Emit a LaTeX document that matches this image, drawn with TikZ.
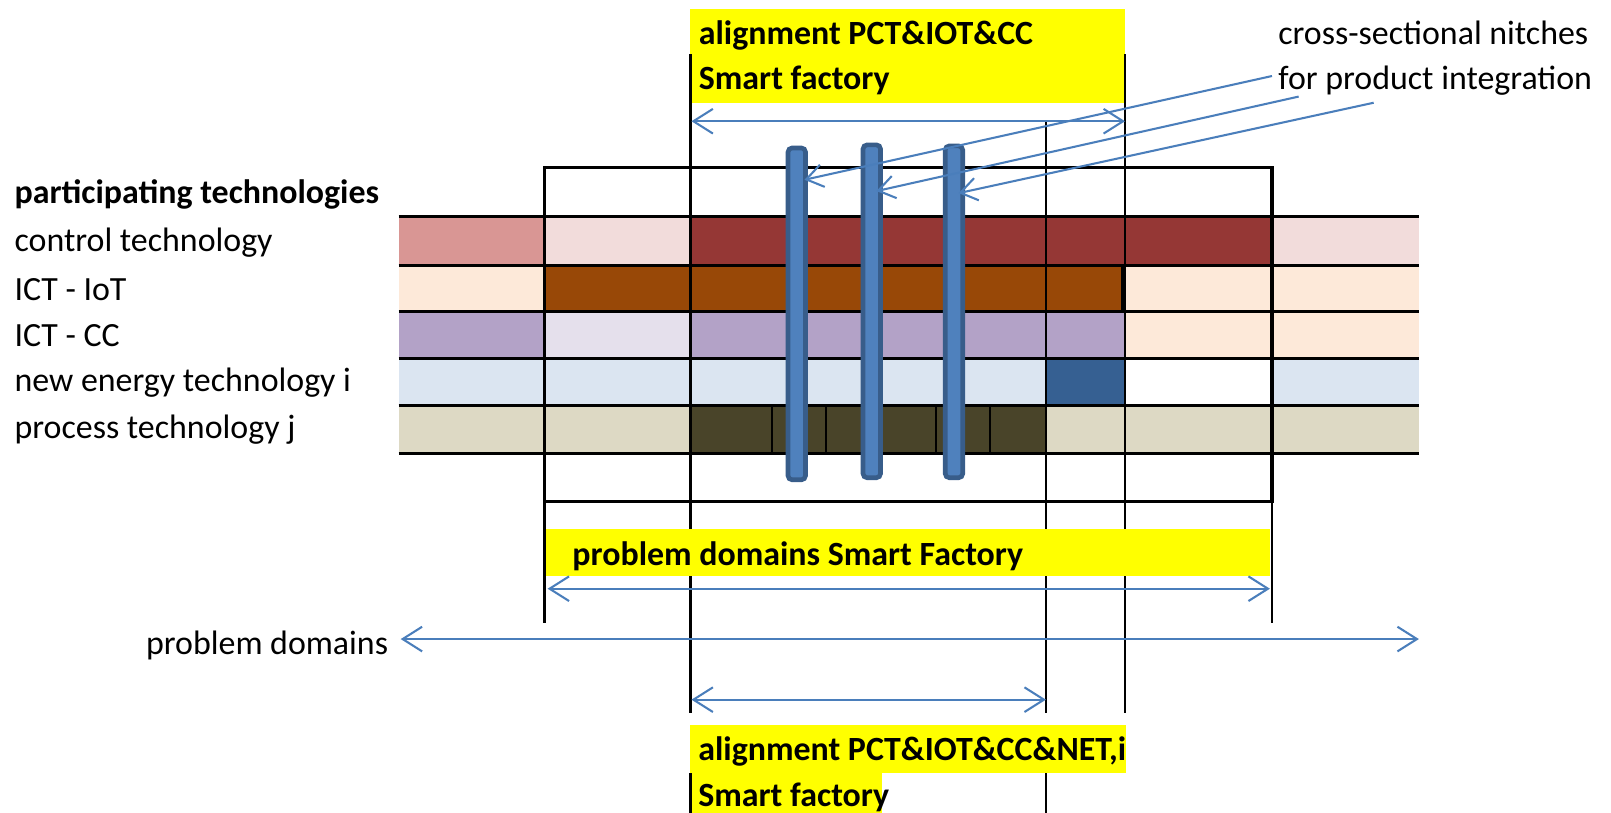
\documentclass[tikz,border=0pt]{standalone}
\usepackage{fontspec}
\setmainfont{Carlito}
\usetikzlibrary{arrows.meta}
\definecolor{cPinkA}{HTML}{D99694}
\definecolor{cPinkB}{HTML}{F2DCDB}
\definecolor{cRed}{HTML}{953735}
\definecolor{cBrown}{HTML}{984807}
\definecolor{cPeach}{HTML}{FDE9D9}
\definecolor{cPurA}{HTML}{B3A2C7}
\definecolor{cPurB}{HTML}{E5E0EC}
\definecolor{cBlueL}{HTML}{DBE5F1}
\definecolor{cBlueD}{HTML}{366092}
\definecolor{cKhaki}{HTML}{DDD9C4}
\definecolor{cOlive}{HTML}{494429}
\definecolor{cYel}{HTML}{FFFF00}
\definecolor{cArrow}{HTML}{4A7EBB}
\definecolor{cBarFill}{HTML}{4F81BD}
\definecolor{cBarLine}{HTML}{385D8A}
\tikzset{
  txt/.style={anchor=base west, inner sep=0pt, font=\fontsize{33}{40}\selectfont},
  btxt/.style={txt, font=\fontsize{33}{40}\selectfont\bfseries},
  gridline/.style={line width=3pt, black},
  boxline/.style={line width=3.6pt, black},
  vline/.style={line width=2.6pt, black},
  subline/.style={line width=2pt, black},
  bluearrow/.style={cArrow, line width=2pt, {Straight Barb[length=19pt,width=24pt]}-{Straight Barb[length=19pt,width=24pt]}},
  nitcharrow/.style={cArrow, line width=2pt, -{Straight Barb[length=16pt,width=22pt]}},
  nitchbar/.style={draw=cBarLine, fill=cBarFill, line width=4.5pt, rounded corners=4pt},
  yel/.style={fill=cYel}
}
\begin{document}
\begin{tikzpicture}[x=1pt,y=-1pt]
\useasboundingbox[fill=white] (0,0) rectangle (1568,791);

% top yellow box
\fill[yel] (672,9) rectangle (1095,100);

% row 1 control technology
\fill[cPinkA] (388,211) rectangle (530,258);
\fill[cPinkB] (530,211) rectangle (672,258);
\fill[cRed]   (672,211) rectangle (1238,258);
\fill[cPinkB] (1238,211) rectangle (1381,258);
% row 2 ICT - IoT
\fill[cPeach] (388,258) rectangle (530,303);
\fill[cBrown] (530,258) rectangle (1095,303);
\fill[cPeach] (1095,258) rectangle (1381,303);
% row 3 ICT - CC
\fill[cPurA]  (388,303) rectangle (530,349);
\fill[cPurB]  (530,303) rectangle (672,349);
\fill[cPurA]  (672,303) rectangle (1095,349);
\fill[cPeach] (1095,303) rectangle (1381,349);
% row 4 new energy
\fill[cBlueL] (388,349) rectangle (1018,395);
\fill[cBlueD] (1018,349) rectangle (1095,395);
\fill[white]  (1095,349) rectangle (1238,395);
\fill[cBlueL] (1238,349) rectangle (1381,395);
% row 5 process technology
\fill[cKhaki] (388,395) rectangle (672,441);
\fill[cOlive] (672,395) rectangle (1018,441);
\fill[cKhaki] (1018,395) rectangle (1381,441);
\foreach \sx in {751,804,858,911,964} \draw[subline] (\sx,395) -- (\sx,441);

% horizontal row lines
\foreach \ry in {211,258,303,349,395,441} \draw[gridline] (388,\ry) -- (1381,\ry);

% vertical lines
\draw[vline] (530,163) -- (530,606);
\draw[vline] (1238,163) -- (1238,606);
\draw[vline] (672,53) -- (672,694);
\draw[vline] (1095,53) -- (1095,694);
\draw[vline] (1018,118) -- (1018,694);
\draw[vline] (672,752) -- (672,791);
\draw[vline] (1018,752) -- (1018,791);
\draw[line width=3pt] (1093,258) -- (1093,303);

% big box
\draw[boxline] (530,163) rectangle (1238,488);

% yellow boxes (lower)
\fill[yel] (531,515) rectangle (1236,561);
\fill[yel] (672,706) rectangle (1096,752);
\fill[yel] (673.5,752) rectangle (858,791);

% nitch bars
\draw[nitchbar] (767,144) rectangle (784,467);
\draw[nitchbar] (840,141) rectangle (857,465);
\draw[nitchbar] (920,142) rectangle (937,465);

% texts
\node[btxt] (tA1) at (680,43) {alignment PCT\&IOT\&CC};
\node[btxt] (tA2) at (680,87.6) {Smart factory};
\node[txt] (tN1) at (1244,43) {cross-sectional nitches};
\node[txt] (tN2) at (1244,87.6) {for product integration};
\node[btxt] (tPT) at (14,198) {participating technologies};
\node[txt] (tR1) at (14,245) {control technology};
\node[txt] (tR2) at (14,292.7) {ICT - IoT};
\node[txt] (tR3) at (14,337.4) {ICT - CC};
\node[txt] (tR4) at (14,381) {new energy technology i};
\node[txt] (tR5) at (14,426.5) {process technology j};
\node[btxt] (tPD) at (557,550) {problem domains Smart Factory};
\node[txt] (tP) at (142,637.5) {problem domains};
\node[btxt] (tB1) at (679.5,740) {alignment PCT\&IOT\&CC\&NET,i};
\node[btxt] (tB2) at (679.5,784.6) {Smart factory};

% arrow end coordinates
\coordinate (aT1) at (673,118);
\coordinate (aT2) at (1095,118);
\coordinate (aS1) at (533,573);
\coordinate (aS2) at (1236,573);
\coordinate (aP1) at (390,622);
\coordinate (aP2) at (1381,622);
\coordinate (aL1) at (673,681);
\coordinate (aL2) at (1018,681);
\coordinate (n1s) at (1238,74);
\coordinate (n2s) at (1264,94);
\coordinate (n3s) at (1337,100);
\coordinate (n1e) at (783,175);
\coordinate (n2e) at (853,186);
\coordinate (n3e) at (933,188);

% arrows
\draw[bluearrow] (aT1) -- (aT2);
\draw[bluearrow] (aS1) -- (aS2);
\draw[bluearrow] (aP1) -- (aP2);
\draw[bluearrow] (aL1) -- (aL2);
\draw[nitcharrow] (n1s) -- (n1e);
\draw[nitcharrow] (n2s) -- (n2e);
\draw[nitcharrow] (n3s) -- (n3e);
\end{tikzpicture}
\end{document}
